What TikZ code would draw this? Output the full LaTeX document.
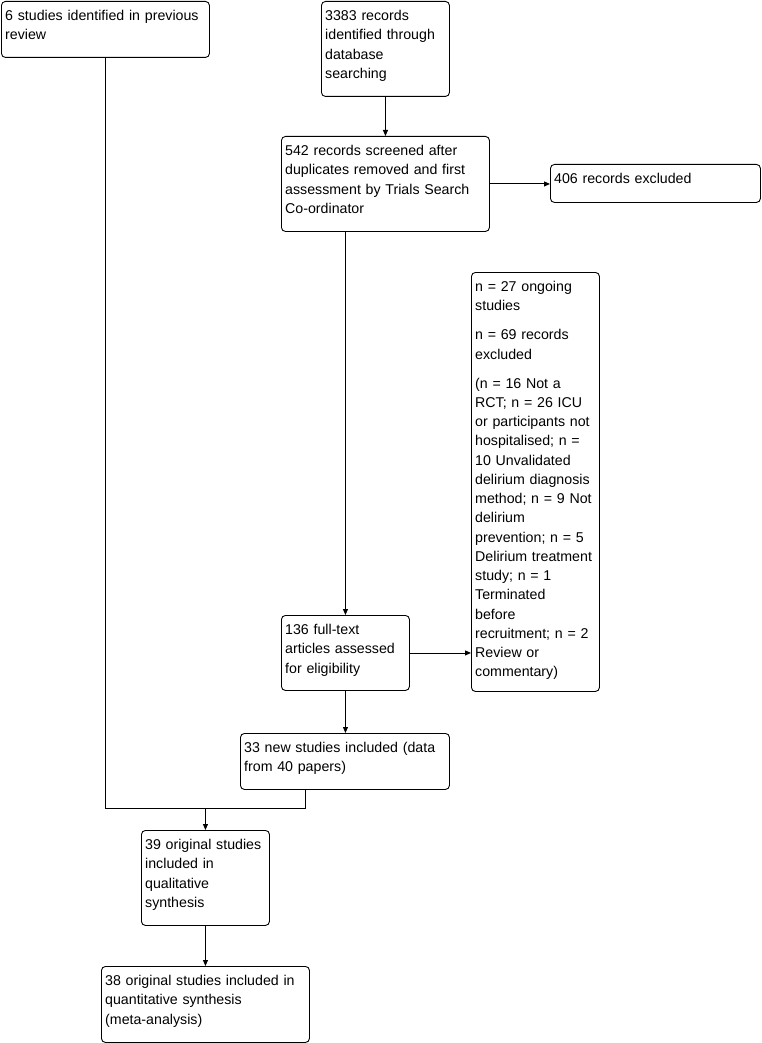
\documentclass[tikz,border=0pt]{standalone}
\usepackage{fontspec}
\setmainfont{Liberation Sans}
\usetikzlibrary{arrows.meta,calc}
\begin{document}
\begin{tikzpicture}[x=1pt,y=-1pt,
  box/.style={draw,rounded corners=4pt,line width=0.9pt,anchor=north west,inner sep=0pt},
  txt/.style={anchor=north west,inner sep=0pt,text width=#1,align=left,font=\fontsize{14.2}{19.25}\selectfont},
  txt/.default=240pt,
  arr/.style={-{Triangle[length=6pt,width=5pt]},line width=0.9pt},
  con/.style={line width=0.9pt}]
\useasboundingbox (0,0) rectangle (761,1043);

% boxes
\node[box,minimum width=208pt,minimum height=56pt] (s6) at (1,1) {};
\node[box,minimum width=128pt,minimum height=95pt] (r3383) at (321,1) {};
\node[box,minimum width=208pt,minimum height=95pt] (r542) at (281,136) {};
\node[box,minimum width=210pt,minimum height=38pt] (x406) at (550,164) {};
\node[box,minimum width=128pt,minimum height=419pt] (ex) at (471,272) {};
\node[box,minimum width=128pt,minimum height=75pt] (f136) at (281,615) {};
\node[box,minimum width=209pt,minimum height=56pt] (n33) at (240,733) {};
\node[box,minimum width=128pt,minimum height=95pt] (q39) at (141,830) {};
\node[box,minimum width=208pt,minimum height=76pt] (m38) at (101,966) {};

% texts
\node[txt] (t6) at (5,7) {\strut 6 studies identified in previous\\review};
\node[txt] (t3383) at (325,7) {\strut 3383 records\\identified through\\database\\searching};
\node[txt] (t542) at (285,142) {\strut 542 records screened after\\duplicates removed and first\\assessment by Trials Search\\Co-ordinator};
\node[txt] (t406) at (554,170) {\strut 406 records excluded};
\node[txt] (tex) at (475,278) {\strut n = 27 ongoing\\studies\\[9.7pt]n = 69 records\\excluded\\[9.7pt](n = 16 Not a\\RCT; n = 26 ICU\\or participants not\\hospitalised; n =\\10 Unvalidated\\delirium diagnosis\\method; n = 9 Not\\delirium\\prevention; n = 5\\Delirium treatment\\study; n = 1\\Terminated\\before\\recruitment; n = 2\\Review or\\commentary)};
\node[txt] (t136) at (285,621) {\strut 136 full-text\\articles assessed\\for eligibility};
\node[txt] (t33) at (244,739) {\strut 33 new studies included (data\\from 40 papers)};
\node[txt] (t39) at (145,836) {\strut 39 original studies\\included in\\qualitative\\synthesis};
\node[txt] (t38) at (105,972) {\strut 38 original studies included in\\quantitative synthesis\\(meta-analysis)};

% connectors
\coordinate (j) at ($(q39.north)+(0,-22)$);
\draw[arr] (r3383.south) -- (r542.north);
\draw[arr] (r542.east) -- (x406.west |- r542.east);
\draw[arr] (r542.south -| f136.north) -- (f136.north);
\draw[arr] (f136.east) -- (ex.west |- f136.east);
\draw[arr] (f136.south) -- (f136.south |- n33.north);
\draw[con] (s6.south) |- (j);
\draw[con] ($(n33.south west)+(65,0)$) |- (j);
\draw[arr] (j) -- (q39.north);
\draw[arr] (q39.south) -- (m38.north);
\end{tikzpicture}
\end{document}
